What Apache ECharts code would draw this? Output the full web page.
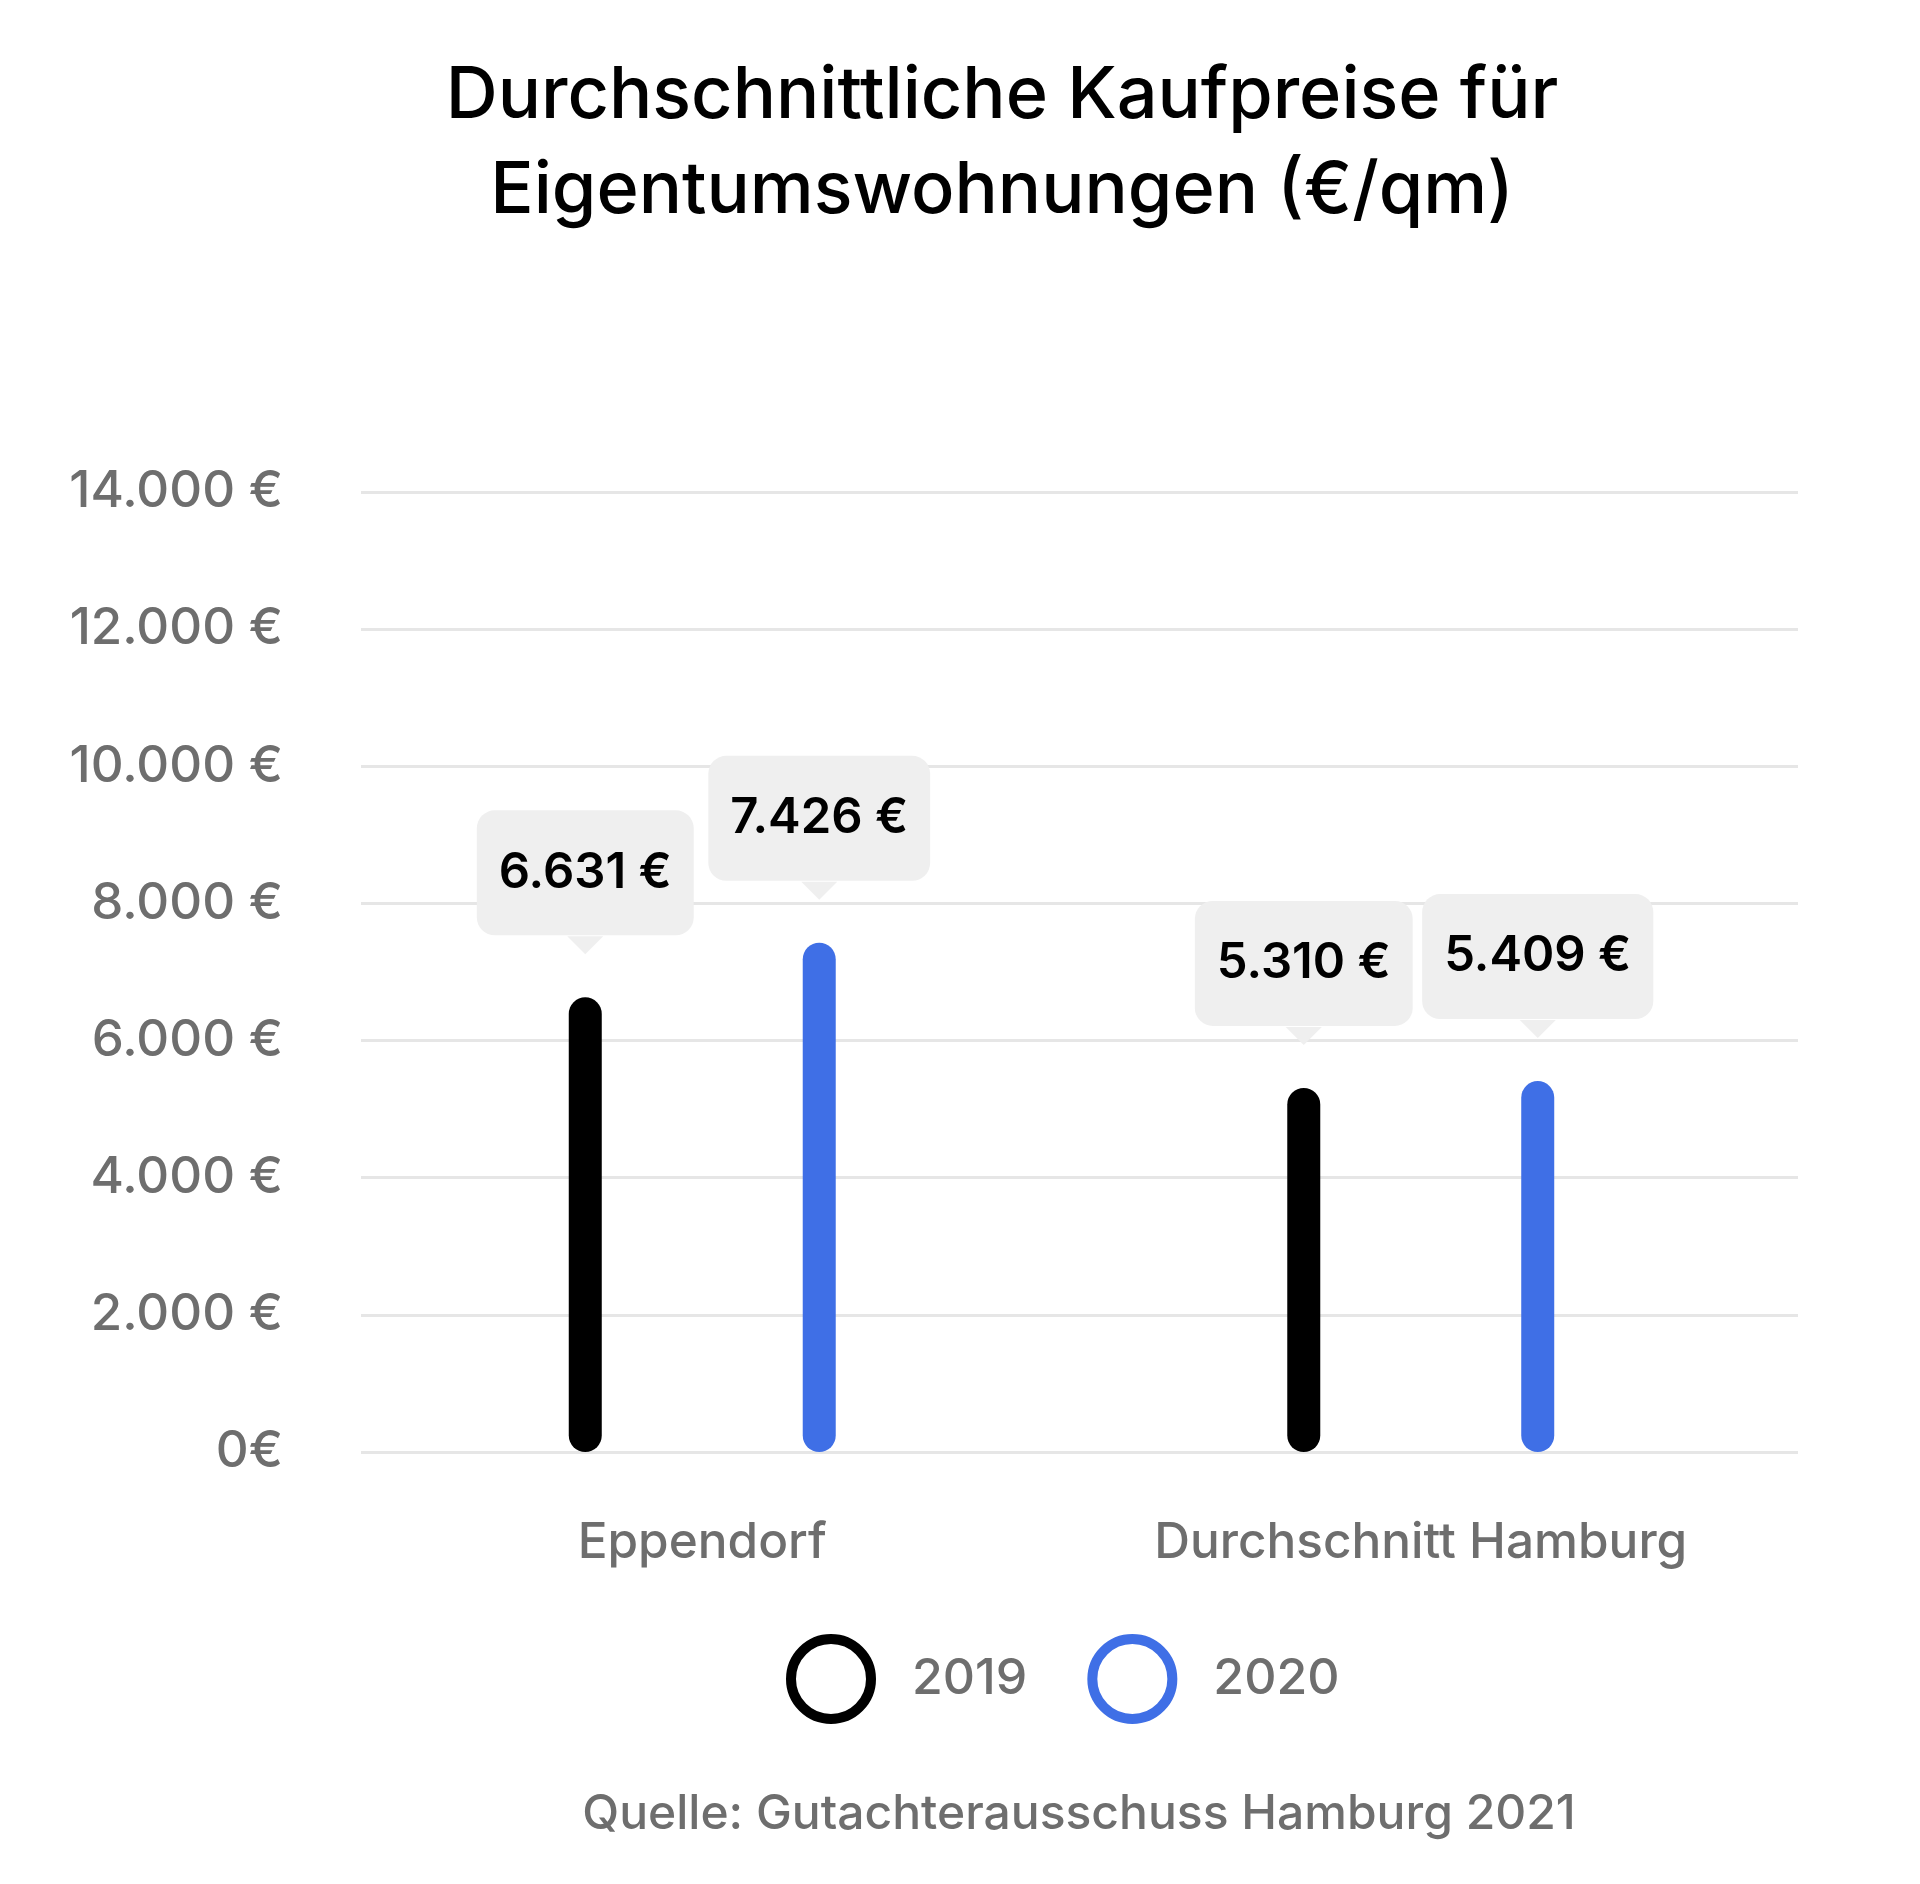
<!DOCTYPE html>
<html>
<head>
<meta charset="utf-8">
<script src="https://cdn.jsdelivr.net/npm/echarts@6/dist/echarts.min.js"></script>
<style>
html,body{margin:0;padding:0;background:#fff;}
#chart{width:1920px;height:1884px;}
</style>
</head>
<body>
<div id="chart"></div>
<script>
const categories = ['Eppendorf', 'Durchschnitt Hamburg'];
const seriesNames = ['2019', '2020'];
const values2019 = [6631, 5310];
const values2020 = [7426, 5409];
const titleLines = ['Durchschnittliche Kaufpreise für', 'Eigentumswohnungen (€/qm)'];
const sourceText = 'Quelle: Gutachterausschuss Hamburg 2021';
const yMin = 0, yMax = 14000, yInterval = 2000;

const FONT = 'Inter, "Noto Sans", sans-serif';
const GRAY = '#6e6e6e';
const BLUE = '#3f6fe6';
const BOX = '#efefef';
const LABEL_DIST = 62;

function fmtEuro(v) {
  if (v === 0) return '0€';
  return v.toLocaleString('de-DE') + ' €';
}

const labelCfg = {
  show: true,
  position: 'top',
  distance: LABEL_DIST,
  formatter: p => fmtEuro(p.value),
  backgroundColor: BOX,
  borderRadius: 18,
  padding: [38, 22, 38, 22],
  fontSize: 49,
  lineHeight: 49,
  fontWeight: 600,
  fontFamily: FONT,
  color: '#000'
};

function pointers(values) {
  return {
    silent: true,
    animation: false,
    symbol: 'triangle',
    symbolSize: [36, 18],
    symbolRotate: 180,
    symbolOffset: [0, -(LABEL_DIST - 10)],
    itemStyle: {color: BOX},
    label: {show: false},
    data: values.map((v, i) => ({coord: [categories[i], v]}))
  };
}

const chart = echarts.init(document.getElementById('chart'), null, {renderer: 'canvas'});
chart.setOption({
  backgroundColor: '#fff',
  animation: false,
  graphic: [
    {type: 'text', x: 1002, y: 96, style: {text: titleLines[0], textAlign: 'center', textVerticalAlign: 'middle', font: '500 72px ' + FONT, fill: '#000'}},
    {type: 'text', x: 1002, y: 191, style: {text: titleLines[1], textAlign: 'center', textVerticalAlign: 'middle', font: '500 72px ' + FONT, fill: '#000'}},
    {type: 'text', x: 1079, y: 1815, style: {text: sourceText, textAlign: 'center', textVerticalAlign: 'middle', font: '500 48px ' + FONT, fill: GRAY}}
  ],
  legend: {
    left: 781,
    top: 1629,
    icon: 'circle',
    itemWidth: 80,
    itemHeight: 80,
    itemGap: 60,
    selectedMode: false,
    textStyle: {fontSize: 50, fontWeight: 500, color: GRAY, fontFamily: FONT, padding: [0, 0, 0, 36]},
    data: [
      {name: seriesNames[0], itemStyle: {color: '#fff', borderColor: '#000', borderWidth: 10}},
      {name: seriesNames[1], itemStyle: {color: '#fff', borderColor: BLUE, borderWidth: 10}}
    ]
  },
  grid: [
    {left: 361, right: 122, top: 492, bottom: 432},
    {left: 343, right: 140, top: 492, bottom: 432}
  ],
  xAxis: [
    {type: 'category', gridIndex: 0, data: categories, show: false},
    {
      type: 'category', gridIndex: 1, data: categories,
      axisLine: {show: false}, axisTick: {show: false},
      axisLabel: {margin: 66, fontSize: 49.5, fontWeight: 500, color: GRAY, fontFamily: FONT}
    }
  ],
  yAxis: [
    {
      type: 'value', gridIndex: 0, min: yMin, max: yMax, interval: yInterval,
      axisLine: {show: false}, axisTick: {show: false},
      splitLine: {lineStyle: {color: '#e6e6e6', width: 3}},
      axisLabel: {margin: 78, fontSize: 51, fontWeight: 500, color: GRAY, fontFamily: FONT, formatter: fmtEuro}
    },
    {
      type: 'value', gridIndex: 1, min: yMin, max: yMax, interval: yInterval,
      show: false, splitLine: {show: false}
    }
  ],
  series: [
    {
      name: seriesNames[0], type: 'bar', xAxisIndex: 1, yAxisIndex: 1,
      data: values2019, barWidth: 33, barGap: '609%',
      itemStyle: {color: '#000', borderRadius: 16.5},
      label: labelCfg,
      markPoint: pointers(values2019)
    },
    {
      name: seriesNames[1], type: 'bar', xAxisIndex: 1, yAxisIndex: 1,
      data: values2020, barWidth: 33, barGap: '609%',
      itemStyle: {color: BLUE, borderRadius: 16.5},
      label: labelCfg,
      markPoint: pointers(values2020)
    }
  ]
});
</script>
</body>
</html>
